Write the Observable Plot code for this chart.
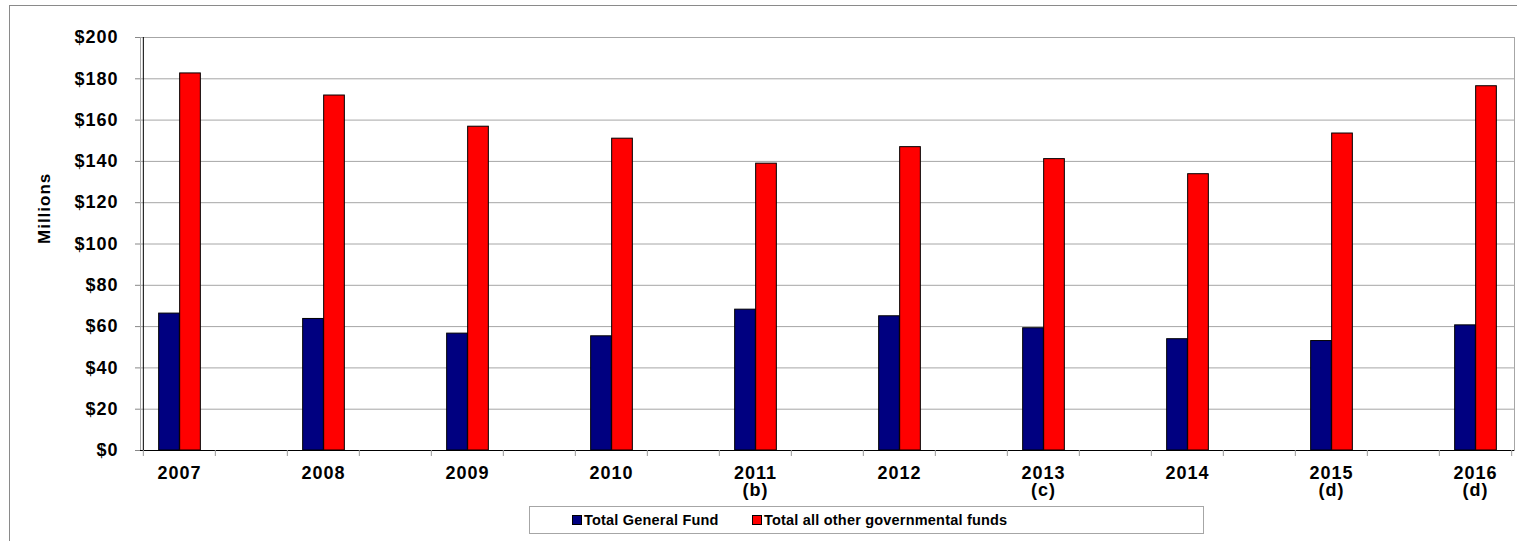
<!DOCTYPE html>
<html><head><meta charset="utf-8">
<script src="https://cdn.jsdelivr.net/npm/d3@7"></script>
<script src="https://cdn.jsdelivr.net/npm/@observablehq/plot@0.6"></script>
<style>
body{margin:0;background:#fff;overflow:hidden;font-family:"Liberation Sans",Arial,sans-serif;}
#wrap{position:relative;width:1517px;height:541px;overflow:hidden;}
#border{position:absolute;left:9px;top:5px;width:1700px;height:700px;border:1px solid #8a8a8a;box-sizing:border-box;pointer-events:none}
#legend{position:absolute;left:529px;top:506px;width:675px;height:28px;border:1px solid #a6a6a6;box-sizing:border-box;font-weight:bold;font-size:14.5px;letter-spacing:0.2px;background:#fff;}
.item{position:absolute;top:0;height:26px;display:flex;align-items:center;white-space:nowrap;}
.sw{width:8px;height:8px;border:1px solid #000;margin-right:2px;}
</style></head>
<body><div id="wrap"><div id="chart"></div><div id="border"></div><div id="legend"></div></div>
<script>
const years = ["2007","2008","2009","2010","2011","2012","2013","2014","2015","2016"];
const notes = ["","","","","(b)","","(c)","","(d)","(d)"];
const generalFund = [66.3, 63.7, 56.6, 55.3, 68.2, 65.0, 59.2, 53.9, 53.0, 60.6];
const otherFunds = [182.6, 171.9, 156.8, 151.0, 138.9, 146.9, 141.1, 133.8, 153.5, 176.4];
const seriesNames = ["Total General Fund", "Total all other governmental funds"];
const seriesColors = ["#000080", "#ff0000"];
const yTicks = [0,20,40,60,80,100,120,140,160,180,200];
const yLabel = "Millions";

const W=1517, H=541, mL=140, mR=3, mT=37, mB=91;
const slots = years.flatMap((y,i)=> i<years.length-1 ? [y, "gap"+i] : [y]);
const bw = (W-mL-mR)/slots.length;
const barW = 21;
const rows = years.map((y,i)=>({year:y, label: notes[i] ? y+"\n"+notes[i] : y, gf:generalFund[i], other:otherFunds[i]}));
const labelOf = new Map(rows.map(d=>[d.year,d.label]));

const chart = Plot.plot({
  width:W, height:H, marginLeft:mL, marginRight:mR, marginTop:mT, marginBottom:mB,
  style:{fontFamily:'"Liberation Sans",Arial,sans-serif', fontSize:"18px", fontWeight:"bold", letterSpacing:"1px", color:"#000", background:"transparent"},
  x:{type:"band", domain:slots, padding:0, label:null},
  y:{domain:[0,200], label:null},
  marks:[
    Plot.ruleY(yTicks,{stroke:"#a6a6a6"}),
    Plot.frame({stroke:"#a6a6a6"}),
    Plot.barY(rows,{x:"year", y:"gf", fill:seriesColors[0], stroke:"#000", insetLeft:bw/2-barW+0.5, insetRight:bw/2-0.5}),
    Plot.barY(rows,{x:"year", y:"other", fill:seriesColors[1], stroke:"#000", insetLeft:bw/2+0.5, insetRight:bw/2-barW-0.5}),
    Plot.ruleY([0],{stroke:"#000"}),
    Plot.ruleX([slots[0]],{x:d=>d, y1:0, y2:200, dx:-bw/2, stroke:"#000"}),
    Plot.ruleX(slots,{x:d=>d, y1:0, y2:-2.9, dx:-bw/2, stroke:"#999"}),
    Plot.ruleX([slots[slots.length-1]],{x:d=>d, y1:0, y2:-2.9, dx:bw/2, stroke:"#999"}),
    Plot.axisY({ticks:yTicks, tickSize:5, tickPadding:17, tickFormat:d=>"$"+d, stroke:"#888", label:null}),
    Plot.axisX({ticks:years, tickSize:0, tickPadding:16, tickFormat:d=>labelOf.get(d), lineHeight:0.95, label:null}),
    Plot.text([yLabel],{frameAnchor:"left", dx:-96, rotate:-90, fontSize:17, fontWeight:"bold"})
  ]
});
document.getElementById("chart").appendChild(chart);

const legend = document.getElementById("legend");
const offsets = [42, 222];
seriesNames.forEach((name,i)=>{
  const it = document.createElement("div");
  it.className = "item";
  it.style.left = offsets[i] + "px";
  const sw = document.createElement("span");
  sw.className = "sw";
  sw.style.background = seriesColors[i];
  const tx = document.createElement("span");
  tx.textContent = name;
  it.appendChild(sw); it.appendChild(tx);
  legend.appendChild(it);
});
</script></body></html>
